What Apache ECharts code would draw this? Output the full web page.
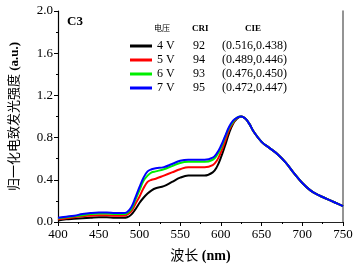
<!DOCTYPE html>
<html>
<head>
<meta charset="utf-8">
<script src="https://cdn.jsdelivr.net/npm/echarts@6/dist/echarts.min.js"></script>
<style>
  html, body { margin: 0; padding: 0; background: #fff; }
  #chart { width: 358px; height: 271px; }
</style>
</head>
<body>
<div id="chart"></div>
<script>
// wavelength (nm)
const wavelength = [400, 410, 420, 430, 440, 450, 460, 470, 480, 485, 490, 495, 500, 505, 510, 515, 520, 530, 540, 550, 560, 570, 580, 590, 595, 600, 605, 610, 615, 620, 625, 630, 635, 640, 650, 660, 670, 680, 690, 700, 710, 720, 730, 740, 750]
// normalized EL intensity per voltage (curves coincide past the peak)
const tail = [0.98, 0.93, 0.86, 0.76, 0.70, 0.64, 0.56, 0.46, 0.37, 0.30, 0.255, 0.22, 0.185, 0.15]
const v4 = [0.015, 0.025, 0.03, 0.035, 0.04, 0.045, 0.045, 0.04, 0.04, 0.045, 0.07, 0.12, 0.18, 0.23, 0.27, 0.30, 0.32, 0.34, 0.38, 0.42, 0.44, 0.44, 0.44, 0.47, 0.52, 0.61, 0.72, 0.84, 0.93, 0.98, 1.0].concat(tail)
const v5 = [0.025, 0.035, 0.045, 0.055, 0.06, 0.065, 0.065, 0.06, 0.06, 0.07, 0.10, 0.17, 0.24, 0.32, 0.38, 0.40, 0.41, 0.44, 0.47, 0.50, 0.52, 0.52, 0.52, 0.54, 0.58, 0.66, 0.76, 0.87, 0.94, 0.985, 1.0].concat(tail)
const v6 = [0.035, 0.045, 0.055, 0.065, 0.075, 0.08, 0.08, 0.075, 0.075, 0.085, 0.12, 0.21, 0.30, 0.39, 0.44, 0.47, 0.48, 0.50, 0.53, 0.56, 0.57, 0.57, 0.57, 0.59, 0.63, 0.70, 0.80, 0.89, 0.95, 0.99, 1.0].concat(tail)
const v7 = [0.04, 0.05, 0.06, 0.075, 0.085, 0.09, 0.09, 0.085, 0.085, 0.095, 0.14, 0.23, 0.33, 0.42, 0.48, 0.50, 0.51, 0.52, 0.55, 0.58, 0.59, 0.59, 0.59, 0.61, 0.65, 0.72, 0.81, 0.90, 0.96, 0.99, 1.0].concat(tail)

const names = ['4 V', '5 V', '6 V', '7 V']
const cri = ['92', '94', '93', '95']
const cie = ['(0.516,0.438)', '(0.489,0.446)', '(0.476,0.450)', '(0.472,0.447)']
const colors = ['#000000', '#ff0000', '#00ee00', '#0000ff']
const values = [v4, v5, v6, v7]

const serif = '"Liberation Serif", "Noto Sans CJK SC", serif'
const cjk = '"Liberation Serif", "Noto Sans CJK SC", sans-serif'

const chart = echarts.init(document.getElementById('chart'))

const axisCommon = {
  axisLine: { show: true, lineStyle: { color: '#000', width: 1.2 } },
  axisTick: { show: true, inside: false, length: 4, lineStyle: { color: '#000' } },
  minorTick: { show: true, splitNumber: 2, length: 2, lineStyle: { color: '#000' } },
  splitLine: { show: false }
}

chart.setOption({
  animation: false,
  grid: { left: 57, right: 15, top: 11, bottom: 49 },
  xAxis: [{
    type: 'value', min: 400, max: 750, interval: 50,
    ...axisCommon,
    axisLabel: { color: '#000', fontFamily: serif, fontSize: 13, margin: 6 },
    name: '波长 {b|(nm)}',
    nameLocation: 'middle',
    nameGap: 27,
    nameTextStyle: {
      color: '#000', fontFamily: cjk, fontSize: 14,
      rich: { b: { fontFamily: serif, fontWeight: 'bold', fontSize: 14, color: '#000' } }
    }
  }, {
    type: 'value', min: 400, max: 750, position: 'top',
    axisLine: { show: true, lineStyle: { color: '#222', width: 1.2 } },
    axisTick: { show: false }, axisLabel: { show: false }, splitLine: { show: false }
  }],
  yAxis: [{
    type: 'value', min: 0, max: 2.0, interval: 0.4,
    ...axisCommon,
    axisLabel: { color: '#000', fontFamily: serif, fontSize: 13, margin: 5, formatter: v => v.toFixed(1) },
    name: '归一化电致发光强度 {b|(a.u.)}',
    nameLocation: 'middle',
    nameGap: 37,
    nameTextStyle: {
      color: '#000', fontFamily: cjk, fontSize: 13,
      rich: { b: { fontFamily: serif, fontWeight: 'bold', fontSize: 13, color: '#000' } }
    }
  }, {
    type: 'value', min: 0, max: 2.0, position: 'right',
    axisLine: { show: true, lineStyle: { color: '#707070', width: 1.5 } },
    axisTick: { show: false }, axisLabel: { show: false }, splitLine: { show: false }
  }],
  legend: {
    left: 125, top: 34, orient: 'vertical',
    itemWidth: 22, itemHeight: 3, itemGap: 0,
    icon: 'rect',
    data: names,
    formatter: name => {
      const i = names.indexOf(name)
      return `{v|${name}}{c|${cri[i]}}{e|${cie[i]}}`
    },
    textStyle: {
      color: '#000', fontFamily: serif, fontSize: 12, lineHeight: 14,
      rich: {
        v: { width: 36, fontFamily: serif, fontSize: 12, lineHeight: 14 },
        c: { width: 29, fontFamily: serif, fontSize: 12, lineHeight: 14 },
        e: { fontFamily: serif, fontSize: 12, lineHeight: 14 }
      }
    }
  },
  graphic: [
    { type: 'text', left: 67, top: 15, style: { text: 'C3', font: 'bold 13px "Liberation Serif"', fill: '#000' } },
    { type: 'text', left: 154, top: 24, style: { text: '电压', font: '8px "Noto Sans CJK SC"', fill: '#000' } },
    { type: 'text', left: 192, top: 24, style: { text: 'CRI', font: 'bold 9px "Liberation Serif"', fill: '#000' } },
    { type: 'text', left: 245, top: 24, style: { text: 'CIE', font: 'bold 9px "Liberation Serif"', fill: '#000' } }
  ],
  series: names.map((name, i) => ({
    name,
    type: 'line',
    smooth: 0.4,
    showSymbol: false,
    lineStyle: { color: colors[i], width: 2 },
    itemStyle: { color: colors[i] },
    data: wavelength.map((w, k) => [w, values[i][k]])
  }))
})
</script>
</body>
</html>
